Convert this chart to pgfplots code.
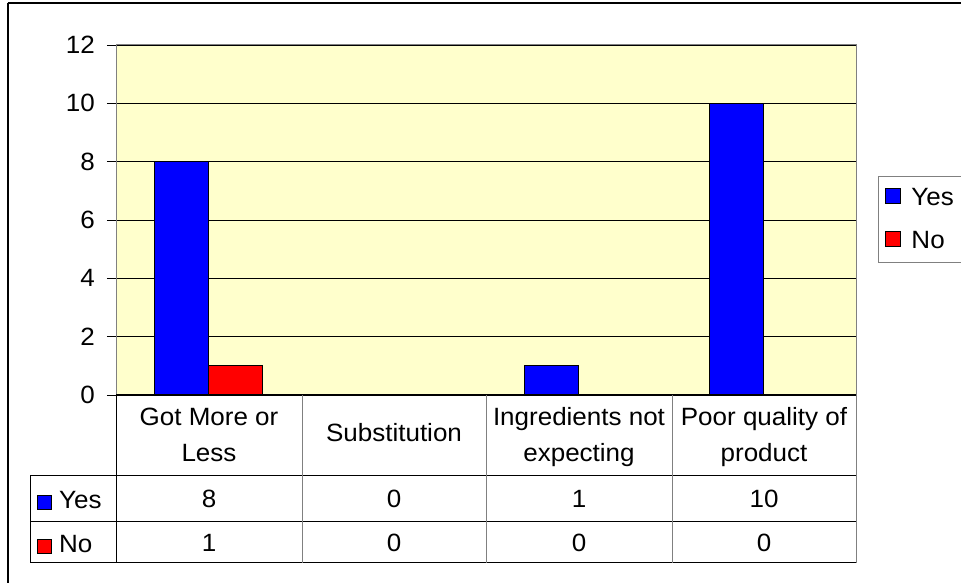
\documentclass[border=0pt]{standalone}
\usepackage{pgfplots}
\pgfplotsset{compat=1.18}
\usepackage{fontspec}
\setmainfont{Liberation Sans}[FakeStretch=1.04]

\definecolor{plotbg}{RGB}{255,255,204}
\definecolor{yescol}{RGB}{0,0,255}
\definecolor{nocol}{RGB}{255,0,0}
\definecolor{framegray}{RGB}{128,128,128}

\newcommand{\chartfont}{\fontsize{25}{30}\selectfont}

\begin{document}
\begin{tikzpicture}[x=1pt,y=1pt]
\path[use as bounding box] (0,0) rectangle (961,583);
\clip (0,0) rectangle (961,583);
% outer chart frame
\draw[black, line width=2pt] (7.5,579.5) -- (975,579.5);
\draw[black, line width=2pt] (7.5,579.5) -- (7.5,-10);

\begin{axis}[
  at={(116pt,188pt)}, anchor=south west,
  scale only axis, width=740pt, height=350pt,
  xmin=-0.5, xmax=3.5, ymin=0, ymax=12,
  ytick={0,2,...,12}, xtick=\empty, ytick pos=left,
  axis background/.style={fill=plotbg},
  axis line style={framegray, line width=1pt},
  ymajorgrids, grid style={black, line width=0.8pt},
  tick align=outside, major tick length=9pt,
  tick style={black, line width=0.8pt},
  y tick label style={font=\chartfont, anchor=east, inner sep=0pt, xshift=-12pt},
  /pgf/number format/assume math mode=true,
  ybar=0pt, bar width=54pt,
  legend style={at={(axis description cs:1.0297,0.62)}, anchor=north west,
    yshift=2pt,
    draw=framegray, line width=1pt, fill=white, font=\chartfont,
    inner xsep=7pt, inner ysep=10pt, row sep=20.3pt,
    nodes={inner sep=2pt}, cells={anchor=west}},
  legend image code/.code={\draw[#1, draw=black, line width=1pt] (-3pt,-6pt) rectangle (12pt,9pt);},
]
\addplot[fill=yescol, draw=black, line width=1.3pt] coordinates {(0,8) (1,0) (2,1) (3,10)};
\addplot[fill=nocol, draw=black, line width=1.3pt] coordinates {(0,1) (1,0) (2,0) (3,0)};
\legend{\hspace{8pt}Yes\hspace{50pt},\hspace{8pt}No}
\end{axis}
% axis line along zero
\draw[black, line width=1pt] (116,188) -- (856,188);

% data table under the plot
\begin{scope}[line width=1pt]
\draw[black] (30,107) -- (856,107);
\draw[black] (30,61) -- (856,61);
\draw[black] (30,20) -- (856,20);
\draw[black] (30,107) -- (30,20);
\draw[black] (116,188) -- (116,20);
\foreach \xx in {302,486,672,856} \draw[framegray] (\xx,188) -- (\xx,20);
\end{scope}
\begin{scope}[every node/.style={font=\chartfont, inner sep=0pt, anchor=base}]
\node at (209,157) {Got More or};
\node at (209,121) {Less};
\node at (394,141) {Substitution};
\node at (579,157) {Ingredients not};
\node at (579,121) {expecting};
\node at (764,157) {Poor quality of};
\node at (764,121) {product};
\node at (209,75) {8};  \node at (394,75) {0};
\node at (579,75) {1};  \node at (764,75) {10};
\node at (209,31) {1};  \node at (394,31) {0};
\node at (579,31) {0};  \node at (764,31) {0};
\node[anchor=base west] at (59,74) {Yes};
\node[anchor=base west] at (59,30) {No};
\end{scope}
\draw[fill=yescol, draw=black, line width=1pt] (37.5,73.5) rectangle (51.5,87.5);
\draw[fill=nocol, draw=black, line width=1pt] (37.5,29.5) rectangle (51.5,43.5);
\end{tikzpicture}
\end{document}
